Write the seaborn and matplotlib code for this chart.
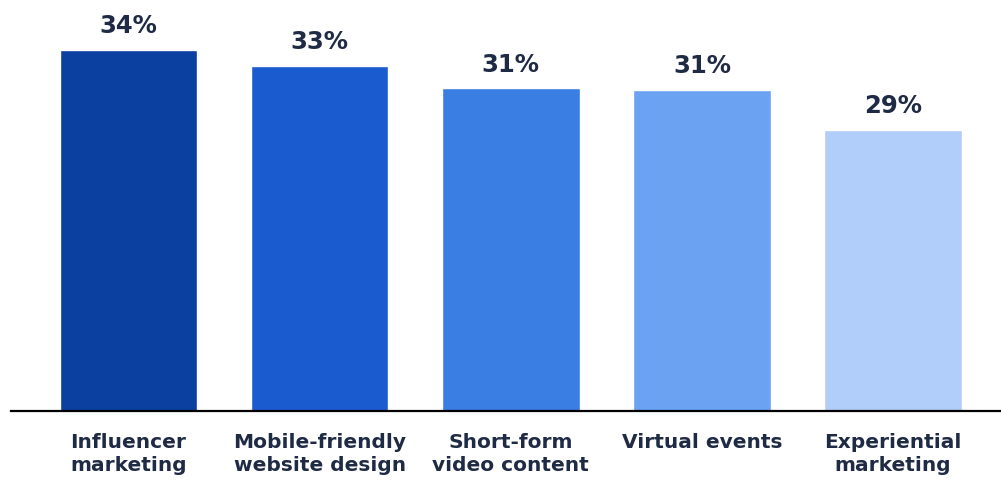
import matplotlib
matplotlib.use("Agg")
import matplotlib.pyplot as plt
import seaborn as sns
import pandas as pd

categories = ["Influencer\nmarketing", "Mobile-friendly\nwebsite design", "Short-form\nvideo content",
              "Virtual events", "Experiential\nmarketing"]
values = [34.0, 33.0, 31.6, 31.5, 29.0]
labels = ["34%", "33%", "31%", "31%", "29%"]
colors = ["#0B40A0", "#1A5BD0", "#3A7DE3", "#6BA2F2", "#B1CDFA"]
text_color = "#1F2A44"

sns.set_theme(style="white")
plt.rcParams["font.family"] = ["DejaVu Sans"]

df = pd.DataFrame({"cat": categories, "val": values})
fig = plt.figure(figsize=(10.01, 4.81), dpi=100)
ax = fig.add_axes([11 / 1001, 69 / 481, 990 / 1001, 412 / 481])
sns.barplot(data=df, x="cat", y="val", hue="cat", palette=colors, legend=False,
            width=0.72, ax=ax, saturation=1)

ax.set_ylim(11.5, 11.5 + 412 / 16.06)
ax.set_xlim(-0.615, 4.565)
for i, (v, lab) in enumerate(zip(values, labels)):
    ax.annotate(lab, (i, v), xytext=(0, 9), textcoords="offset points",
                ha="center", va="bottom", fontsize=17.5, fontweight="bold", color=text_color)

for s in ["top", "left", "right"]:
    ax.spines[s].set_visible(False)
ax.spines["bottom"].set_color("black")
ax.spines["bottom"].set_linewidth(1.6)
ax.set_yticks([])
ax.set_xlabel("")
ax.set_ylabel("")
ax.tick_params(axis="x", length=0, pad=15)
for t in ax.get_xticklabels():
    t.set_fontsize(14.5)
    t.set_fontweight("bold")
    t.set_color(text_color)
    t.set_linespacing(1.3)

fig.savefig("out.png", dpi=100)
